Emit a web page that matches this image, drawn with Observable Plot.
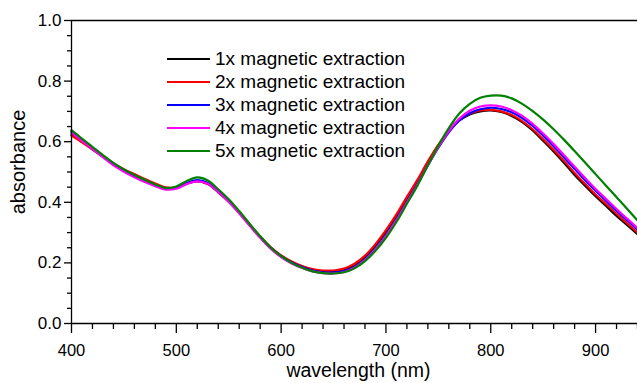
<!DOCTYPE html>
<html><head><meta charset="utf-8">
<script src="https://cdn.jsdelivr.net/npm/d3@7"></script>
<script src="https://cdn.jsdelivr.net/npm/@observablehq/plot@0.6"></script>
<style>
html,body{margin:0;padding:0;background:#fff;}
#wrap{position:relative;width:637px;height:383px;overflow:hidden;font-family:"Liberation Sans",Arial,sans-serif;}
#legend{position:absolute;left:167px;top:47px;}
.row{display:flex;align-items:center;height:23px;font-size:19px;color:#000;white-space:nowrap;}
.sw{width:43px;height:0;border-top:2px solid;margin-right:5px;}
</style></head><body><div id="wrap"></div>
<script>
const wavelengths = [400,410,420,430,440,450,460,470,480,490,500,510,520,530,540,550,560,570,580,590,600,610,620,630,640,650,660,670,680,690,700,710,720,730,740,750,760,770,780,790,800,810,820,830,840,850,860,870,880,890,900,910,920,930,940];
const seriesNames = ["1x magnetic extraction","2x magnetic extraction","3x magnetic extraction","4x magnetic extraction","5x magnetic extraction"];
const seriesColors = ["#000000","#ff0000","#0000ff","#ff00ff","#008000"];
const abs1x = [0.625,0.600,0.575,0.550,0.525,0.505,0.488,0.472,0.458,0.446,0.448,0.462,0.470,0.460,0.433,0.402,0.365,0.324,0.285,0.250,0.223,0.203,0.188,0.177,0.172,0.172,0.177,0.192,0.218,0.255,0.300,0.352,0.410,0.465,0.528,0.585,0.635,0.670,0.690,0.700,0.703,0.698,0.685,0.665,0.637,0.603,0.568,0.530,0.490,0.455,0.420,0.388,0.355,0.325,0.295];
const abs2x = [0.620,0.598,0.575,0.551,0.528,0.509,0.493,0.477,0.462,0.449,0.449,0.462,0.470,0.461,0.435,0.404,0.367,0.326,0.287,0.252,0.225,0.205,0.190,0.180,0.175,0.175,0.181,0.197,0.224,0.262,0.308,0.360,0.418,0.474,0.535,0.590,0.637,0.671,0.692,0.703,0.705,0.700,0.688,0.668,0.641,0.608,0.573,0.536,0.497,0.461,0.426,0.394,0.362,0.331,0.300];
const abs3x = [0.635,0.606,0.579,0.552,0.526,0.505,0.487,0.471,0.457,0.445,0.448,0.463,0.473,0.464,0.437,0.405,0.367,0.326,0.286,0.250,0.222,0.201,0.186,0.175,0.169,0.168,0.173,0.187,0.212,0.248,0.292,0.344,0.402,0.460,0.522,0.580,0.631,0.670,0.694,0.707,0.712,0.708,0.697,0.678,0.652,0.620,0.585,0.548,0.510,0.473,0.438,0.405,0.372,0.341,0.310];
const abs4x = [0.630,0.603,0.576,0.549,0.522,0.501,0.483,0.467,0.453,0.442,0.445,0.460,0.469,0.461,0.434,0.402,0.364,0.323,0.283,0.247,0.219,0.198,0.183,0.172,0.166,0.165,0.170,0.184,0.209,0.245,0.289,0.341,0.400,0.459,0.522,0.582,0.635,0.676,0.702,0.716,0.720,0.716,0.704,0.685,0.659,0.627,0.592,0.555,0.517,0.480,0.444,0.411,0.378,0.346,0.315];
const abs5x = [0.638,0.610,0.583,0.556,0.530,0.508,0.490,0.474,0.459,0.447,0.452,0.470,0.482,0.472,0.443,0.410,0.371,0.329,0.288,0.251,0.222,0.200,0.184,0.172,0.166,0.165,0.169,0.182,0.206,0.240,0.283,0.335,0.395,0.455,0.522,0.587,0.645,0.693,0.725,0.745,0.752,0.752,0.743,0.725,0.701,0.673,0.641,0.606,0.569,0.531,0.493,0.455,0.417,0.379,0.340];
const xMajorTicks = [400,500,600,700,800,900];
const xMinorTicks = [420,440,460,480,520,540,560,580,620,640,660,680,720,740,760,780,820,840,860,880,920,940];
const yMajorTicks = [0,0.2,0.4,0.6,0.8,1.0];
const yMinorTicks = [0.05,0.1,0.15,0.25,0.3,0.35,0.45,0.5,0.55,0.65,0.7,0.75,0.85,0.9,0.95];
const xLabel = "wavelength (nm)";
const yLabel = "absorbance";

const allSeries = [abs1x,abs2x,abs3x,abs4x,abs5x];
const rows = [];
allSeries.forEach((vals, si) => vals.forEach((v, i) => rows.push({wl: wavelengths[i], a: v, s: seriesNames[si]})));

const font = '"Liberation Sans", Arial, sans-serif';
const chart = Plot.plot({
  width: 637, height: 383,
  marginLeft: 71, marginRight: 0, marginTop: 20, marginBottom: 60,
  style: {fontFamily: font, color: "#000", background: "#fff", overflow: "visible"},
  x: {domain: [400, 940]},
  y: {domain: [0, 1]},
  color: {domain: seriesNames, range: seriesColors},
  marks: [
    Plot.line(rows, {x: "wl", y: "a", z: "s", stroke: "s", strokeWidth: 2.2, curve: "catmull-rom"}),
    Plot.ruleY([0, 1], {stroke: "#000", strokeWidth: 1.3}),
    Plot.ruleX([400], {stroke: "#000", strokeWidth: 1.3}),
    Plot.axisX({ticks: xMajorTicks, tickSize: 10, tickPadding: 11, tickFormat: d => String(d), fontSize: 16.5, label: null, strokeWidth: 1.3}),
    Plot.axisX({ticks: xMinorTicks, tickSize: 6, tickFormat: null, text: null, label: null, strokeWidth: 1.3}),
    Plot.axisY({ticks: yMajorTicks, tickSize: 7, tickPadding: 3, tickFormat: d3.format(".1f"), fontSize: 17, label: null, strokeWidth: 1.3}),
    Plot.axisY({ticks: yMinorTicks, tickSize: 4, tickFormat: null, text: null, label: null, strokeWidth: 1.3}),
    Plot.text([xLabel], {frameAnchor: "bottom", lineAnchor: "top", dy: 40, dx: 4, text: d => d, fontSize: 19.5}),
    Plot.text([yLabel], {frameAnchor: "left", textAnchor: "middle", rotate: -90, dx: -53, dy: -10, text: d => d, fontSize: 20})
  ]
});
const wrap = document.getElementById("wrap");
wrap.appendChild(chart);
const legend = document.createElement("div");
legend.id = "legend";
seriesNames.forEach((n, i) => {
  const r = document.createElement("div"); r.className = "row";
  const sw = document.createElement("div"); sw.className = "sw"; sw.style.borderTopColor = seriesColors[i];
  const t = document.createElement("span"); t.textContent = n;
  r.appendChild(sw); r.appendChild(t); legend.appendChild(r);
});
wrap.appendChild(legend);
</script>
</body></html>
